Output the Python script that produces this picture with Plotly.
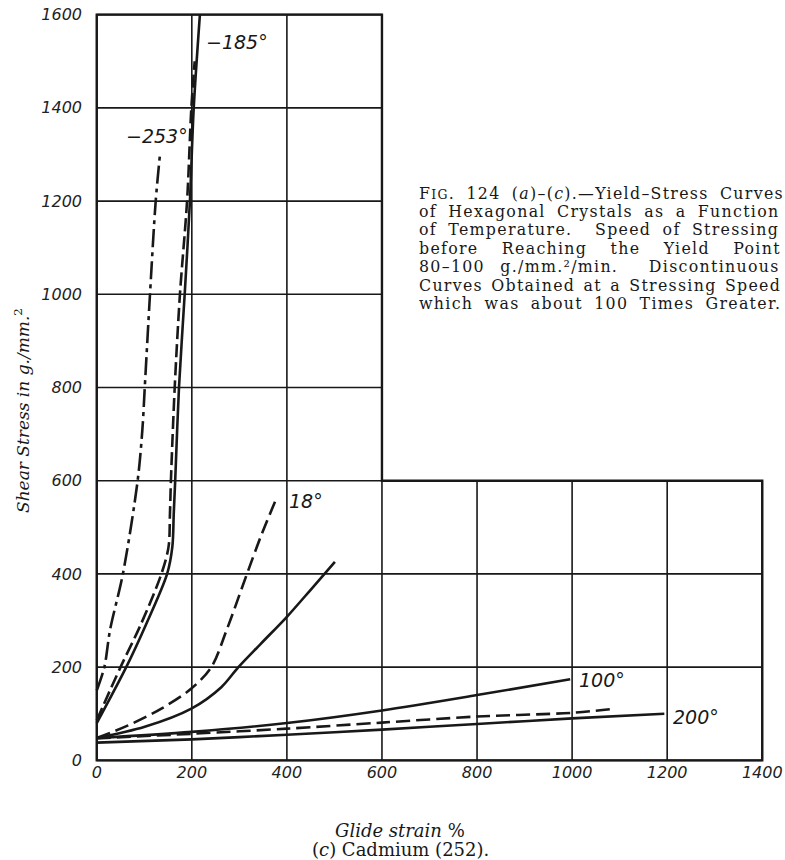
import plotly.graph_objects as go

# ---------------- data ----------------
X_TICKS = [0, 200, 400, 600, 800, 1000, 1200, 1400]
Y_TICKS = [0, 200, 400, 600, 800, 1000, 1200, 1400, 1600]

# -253 deg, dash-dot
m253_x = [0, 16, 28, 55, 86, 96, 101, 112, 124, 133]
m253_y = [150, 200, 280, 400, 600, 710, 800, 1000, 1200, 1300]

# -185 deg, dashed
m185d_x = [0, 50, 92, 136, 151, 154, 156, 164, 175, 190, 199, 206]
m185d_y = [86, 200, 290, 400, 458, 530, 600, 800, 1000, 1200, 1400, 1500]

# -185 deg, solid
m185s_x = [0, 62, 103, 148, 159, 162, 165, 173, 185, 196, 204, 217]
m185s_y = [80, 200, 290, 400, 458, 530, 600, 800, 1000, 1200, 1400, 1600]

# 18 deg, dashed
p18d_x = [0, 66, 136, 199, 241, 273, 316, 345, 375]
p18d_y = [48, 75, 111, 154, 200, 279, 400, 480, 555]

# 18 deg, solid
p18s_x = [0, 101, 199, 262, 298, 345, 400, 450, 501]
p18s_y = [48, 72, 111, 157, 200, 250, 308, 366, 426]

# 100 deg, solid
p100s_x = [0, 200, 400, 600, 800, 996]
p100s_y = [48, 61, 80, 107, 140, 174]

# 100 deg, dashed
p100d_x = [0, 200, 400, 600, 800, 1000, 1082]
p100d_y = [47, 57, 68, 81, 94, 102, 110]

# 200 deg, solid
p200s_x = [0, 200, 400, 600, 800, 1000, 1194]
p200s_y = [38, 45, 55, 66, 78, 90, 100]

CURVE_LABELS = ["\u2212185\u00b0", "\u2212253\u00b0", "18\u00b0", "100\u00b0", "200\u00b0"]
LABEL_X = [295, 126, 440, 1063, 1261]
LABEL_Y = [1542, 1340, 556, 172, 92]

CAPTION = [
    "F<span style='font-size:12.5px'>IG</span>. 124 (<i>a</i>)\u2013(<i>c</i>).\u2014Yield\u2013Stress Curves",
    "of Hexagonal Crystals as a Function",
    "of Temperature.  Speed of Stressing",
    "before Reaching the Yield Point",
    "80\u2013100 g./mm.\u00b2/min.  Discontinuous",
    "Curves Obtained at a Stressing Speed",
    "which was about 100 Times Greater.",
]
# extra word spacing (px) per caption line, imitating the justified setting
CAP_WORDSP = [5, 5, 5, 17, 9, 2, 5]

# ---------------- layout geometry ----------------
W, H = 785, 860
ML, MR, MT, MB = 92, 18, 10, 95
PW, PH = W - ML - MR, H - MT - MB


def px_x(p):
    return (p - ML) / PW


def px_y(p):
    return (H - MB - p) / PH


INK = "#181818"
fig = go.Figure()


def add(x, y, dash, width=2.6):
    fig.add_trace(go.Scatter(x=x, y=y, mode="lines",
                             line=dict(color=INK, width=width, dash=dash, shape="spline", smoothing=0.9),
                             showlegend=False, hoverinfo="skip"))


add(m253_x, m253_y, "18px,5px,4px,5px")
add(m185d_x, m185d_y, "13px,5px")
add(m185s_x, m185s_y, "solid")
add(p18d_x, p18d_y, "14px,6px")
add(p18s_x, p18s_y, "solid")
add(p100s_x, p100s_y, "solid")
add(p100d_x, p100d_y, "14px,6px")
add(p200s_x, p200s_y, "solid")

# ---------------- L-shaped grid ----------------
CORNER = 600
XMAX, YMAX = X_TICKS[-1], Y_TICKS[-1]
shapes = []
for xv in X_TICKS:
    top = YMAX if xv <= CORNER else CORNER
    shapes.append(dict(type="line", xref="x", yref="y", x0=xv, x1=xv, y0=0, y1=top,
                       line=dict(color=INK, width=1.6), layer="below"))
for yv in Y_TICKS:
    right = XMAX if yv <= CORNER else CORNER
    shapes.append(dict(type="line", xref="x", yref="y", x0=0, x1=right, y0=yv, y1=yv,
                       line=dict(color=INK, width=1.6), layer="below"))
outline = f"M0,0 L{XMAX},0 L{XMAX},{CORNER} L{CORNER},{CORNER} L{CORNER},{YMAX} L0,{YMAX} Z"
shapes.append(dict(type="path", xref="x", yref="y", path=outline,
                   line=dict(color=INK, width=2.4), layer="below"))

# ---------------- annotations ----------------
ann = []
hand = dict(family="DejaVu Sans", size=19, color=INK, style="italic")
for t, x, y in zip(CURVE_LABELS, LABEL_X, LABEL_Y):
    ann.append(dict(text=t, x=x, y=y, xref="x", yref="y", xanchor="center", yanchor="middle",
                    showarrow=False, font=hand))

cap_font = dict(family="DejaVu Serif", size=15.8, color=INK)
for i, (ln, ws) in enumerate(zip(CAPTION, CAP_WORDSP)):
    txt = f"<span style='letter-spacing:1.3px; word-spacing:{ws}px'>{ln}</span>"
    ann.append(dict(text=txt, x=px_x(417), y=px_y(193 + 18.4 * i), xref="paper", yref="paper",
                    xanchor="left", yanchor="middle", showarrow=False, font=cap_font))

ann.append(dict(text="<i>Shear Stress in g./mm.</i><sup>2</sup>", x=px_x(22), y=px_y(411),
                xref="paper", yref="paper", xanchor="center", yanchor="middle", textangle=-90,
                showarrow=False, font=dict(family="DejaVu Serif", size=17, color=INK)))
ann.append(dict(text="<i>Glide strain</i> %", x=px_x(400), y=px_y(830),
                xref="paper", yref="paper", xanchor="center", yanchor="middle", showarrow=False,
                font=dict(family="DejaVu Serif", size=18, color=INK)))
ann.append(dict(text="(<i>c</i>) Cadmium (252).", x=px_x(400), y=px_y(849),
                xref="paper", yref="paper", xanchor="center", yanchor="middle", showarrow=False,
                font=dict(family="DejaVu Serif", size=18, color=INK)))

tickfont = dict(family="DejaVu Sans", size=16, color="#222", style="italic")
fig.update_layout(
    width=W, height=H,
    margin=dict(l=ML, r=MR, t=MT, b=MB, pad=0, autoexpand=False),
    paper_bgcolor="white", plot_bgcolor="white",
    shapes=shapes, annotations=ann,
    xaxis=dict(range=[-10, 1410], tickvals=X_TICKS, ticktext=[str(v) for v in X_TICKS],
               showgrid=False, zeroline=False, showline=False, ticks="", automargin=False,
               ticklabeloverflow="allow", tickfont=tickfont, ticklabelstandoff=-4),
    yaxis=dict(range=[-10, 1610], tickvals=Y_TICKS, ticktext=[str(v) for v in Y_TICKS],
               showgrid=False, zeroline=False, showline=False, ticks="", automargin=False,
               ticklabeloverflow="allow", tickfont=tickfont, ticklabelstandoff=9),
)

# the default page margin would push the 785x860 figure off the window; remove it
fig.write_html("out.html", config={"displayModeBar": False, "staticPlot": True},
               post_script="document.body.style.margin='0';")
